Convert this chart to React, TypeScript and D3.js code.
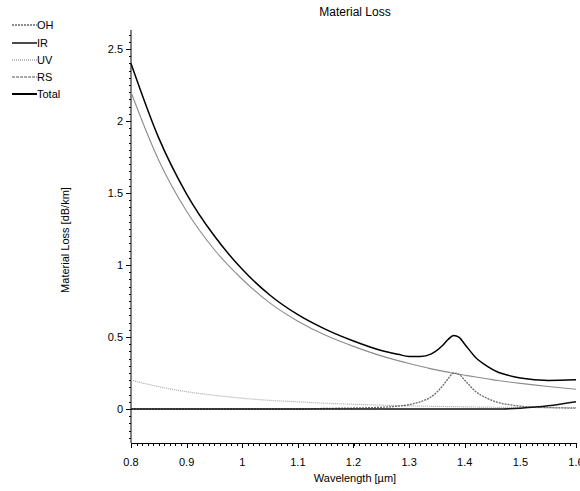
import React, { useEffect, useRef } from 'react';
import * as d3 from 'd3';

// wavelength grid [µm]
const wavelength = [0.8, 0.85, 0.9, 0.95, 1.0, 1.05, 1.1, 1.15, 1.2, 1.25, 1.28, 1.3, 1.32, 1.34, 1.36, 1.37, 1.38, 1.39, 1.4, 1.42, 1.44, 1.46, 1.48, 1.5, 1.55, 1.6];

// loss values [dB/km]
const ohLoss = [0, 0, 0, 0, 0, 0, 0, 0.004, 0.007, 0.012, 0.02, 0.03, 0.05, 0.085, 0.16, 0.21, 0.25, 0.24, 0.2, 0.12, 0.075, 0.045, 0.03, 0.02, 0.01, 0.006];
const irLoss = [0, 0, 0, 0, 0, 0, 0, 0, 0, 0, 0, 0, 0, 0, 0, 0, 0, 0, 0, 0, 0, 0, 0.002, 0.006, 0.022, 0.05];
const uvLoss = [0.2, 0.155, 0.12, 0.095, 0.075, 0.06, 0.05, 0.04, 0.033, 0.027, 0.024, 0.022, 0.02, 0.019, 0.018, 0.017, 0.017, 0.016, 0.015, 0.014, 0.013, 0.012, 0.012, 0.011, 0.01, 0.009];
const rsLoss = [2.2, 1.726, 1.373, 1.106, 0.901, 0.735, 0.61, 0.512, 0.435, 0.369, 0.336, 0.316, 0.297, 0.279, 0.263, 0.256, 0.248, 0.241, 0.235, 0.222, 0.21, 0.198, 0.188, 0.178, 0.156, 0.1375];
const totalLoss = [2.4, 1.881, 1.493, 1.201, 0.97, 0.79, 0.655, 0.553, 0.472, 0.406, 0.38, 0.365, 0.365, 0.383, 0.441, 0.483, 0.51, 0.497, 0.45, 0.356, 0.298, 0.255, 0.232, 0.215, 0.198, 0.2025];

const xTicks = [0.8, 0.9, 1.0, 1.1, 1.2, 1.3, 1.4, 1.5, 1.6];
const yTicks = [0, 0.5, 1, 1.5, 2, 2.5];

const seriesNames = ['OH', 'IR', 'UV', 'RS', 'Total'];

const App = () => {
  const svgRef = useRef<SVGSVGElement>(null);

  useEffect(() => {
    const svg = d3.select(svgRef.current);
    svg.selectAll('*').remove();

    const font = 'Liberation Sans, Arial, sans-serif';

    const x = d3.scaleLinear().domain([0.8, 1.6]).range([131, 576]);
    const y = d3.scaleLinear().domain([-0.236, 2.632]).range([443, 30]);

    const styles = {
      OH: { stroke: '#6a6a6a', width: 1.3, dash: '2,1', legendDash: '2,1' },
      IR: { stroke: '#111', width: 1.5, dash: null, legendDash: null },
      UV: { stroke: '#a8a8a8', width: 1.2, dash: '1,1', legendDash: '1,1' },
      RS: { stroke: '#8c8c8c', width: 1.1, dash: null, legendDash: '3,1' },
      Total: { stroke: '#000', width: 1.5, dash: null, legendDash: null },
    };
    const values = { OH: ohLoss, IR: irLoss, UV: uvLoss, RS: rsLoss, Total: totalLoss };

    // title
    svg
      .append('text')
      .attr('x', 355)
      .attr('y', 16)
      .attr('text-anchor', 'middle')
      .style('font', `12px ${font}`)
      .text('Material Loss');

    // y axis
    svg
      .append('line')
      .attr('x1', x(0.8))
      .attr('x2', x(0.8))
      .attr('y1', y.range()[1])
      .attr('y2', y.range()[0])
      .attr('stroke', '#000');

    const yMinor = d3.range(-0.2, 2.61, 0.05);
    svg
      .selectAll('.yminor')
      .data(yMinor)
      .enter()
      .append('line')
      .attr('x1', x(0.8) - 2)
      .attr('x2', x(0.8))
      .attr('y1', d => Math.round(y(d)) + 0.5)
      .attr('y2', d => Math.round(y(d)) + 0.5)
      .attr('stroke', '#000');

    svg
      .selectAll('.ytick')
      .data(yTicks)
      .enter()
      .append('line')
      .attr('x1', x(0.8) - 5)
      .attr('x2', x(0.8))
      .attr('y1', d => Math.round(y(d)) + 0.5)
      .attr('y2', d => Math.round(y(d)) + 0.5)
      .attr('stroke', '#000');

    svg
      .selectAll('.ylabel')
      .data(yTicks)
      .enter()
      .append('text')
      .attr('x', x(0.8) - 8)
      .attr('y', d => y(d) + 4)
      .attr('text-anchor', 'end')
      .style('font', `11px ${font}`)
      .text(d => String(d));

    // x axis
    svg
      .append('line')
      .attr('x1', x(0.8))
      .attr('x2', x(1.6))
      .attr('y1', 443.5)
      .attr('y2', 443.5)
      .attr('stroke', '#000');

    const xMinor = d3.range(0.8, 1.601, 0.01);
    svg
      .selectAll('.xminor')
      .data(xMinor)
      .enter()
      .append('line')
      .attr('x1', d => Math.round(x(d)) + 0.5)
      .attr('x2', d => Math.round(x(d)) + 0.5)
      .attr('y1', 443)
      .attr('y2', 446)
      .attr('stroke', '#000');

    svg
      .selectAll('.xtick')
      .data(xTicks)
      .enter()
      .append('line')
      .attr('x1', d => Math.round(x(d)) + 0.5)
      .attr('x2', d => Math.round(x(d)) + 0.5)
      .attr('y1', 443)
      .attr('y2', 448)
      .attr('stroke', '#000');

    svg
      .selectAll('.xlabel')
      .data(xTicks)
      .enter()
      .append('text')
      .attr('x', d => x(d))
      .attr('y', 466)
      .attr('text-anchor', 'middle')
      .style('font', `11px ${font}`)
      .text(d => (d === 1 ? '1' : d3.format('.1f')(d)));

    svg
      .append('text')
      .attr('x', 355)
      .attr('y', 482)
      .attr('text-anchor', 'middle')
      .style('font', `11px ${font}`)
      .text('Wavelength [µm]');

    svg
      .append('text')
      .attr('transform', 'translate(69, 240) rotate(-90)')
      .attr('text-anchor', 'middle')
      .style('font', `11px ${font}`)
      .text('Material Loss [dB/km]');

    // curves
    const lineGen = d3
      .line<number>()
      .x((d, i) => x(wavelength[i]))
      .y(d => y(d))
      .curve(d3.curveMonotoneX);

    const drawOrder = ['UV', 'RS', 'OH', 'IR', 'Total'];
    drawOrder.forEach(name => {
      const s = styles[name];
      svg
        .append('path')
        .attr('d', lineGen(values[name]))
        .attr('fill', 'none')
        .attr('stroke', s.stroke)
        .attr('stroke-width', s.width)
        .attr('stroke-dasharray', s.dash);
    });

    // legend
    const legendY = [25, 43, 60, 77, 94];
    seriesNames.forEach((name, i) => {
      const s = styles[name];
      svg
        .append('line')
        .attr('x1', 12)
        .attr('x2', 37)
        .attr('y1', legendY[i])
        .attr('y2', legendY[i])
        .attr('stroke', s.stroke)
        .attr('stroke-width', name === 'Total' ? 2 : 1.5)
        .attr('stroke-dasharray', s.legendDash);
      svg
        .append('text')
        .attr('x', 37)
        .attr('y', legendY[i] + 4)
        .style('font', `11px ${font}`)
        .text(name);
    });
  }, []);

  return (
    <svg
      ref={svgRef}
      width={580}
      height={491}
      style={{ position: 'absolute', left: 0, top: 0, background: '#fff' }}
    />
  );
};

export default App;
